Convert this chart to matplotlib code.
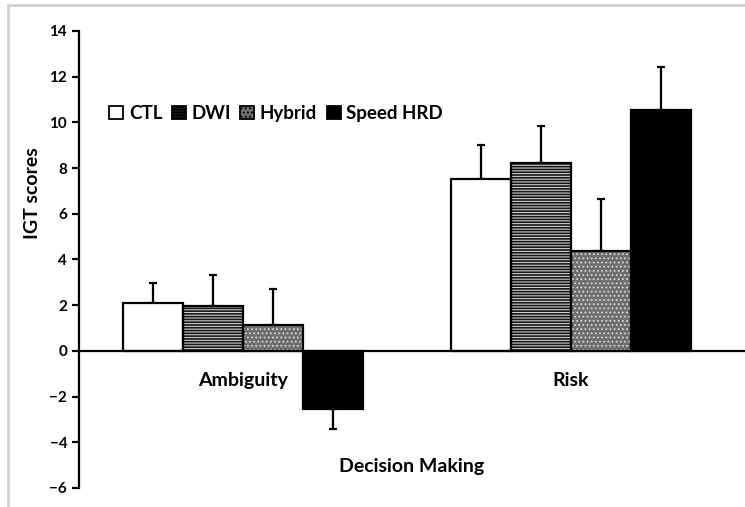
import numpy as np
import matplotlib.pyplot as plt
from matplotlib.patches import Patch

# data
conditions = ["Ambiguity", "Risk"]
groups = ["CTL", "DWI", "Hybrid", "Speed HRD"]
means = {
    "CTL": [2.1, 7.5],
    "DWI": [1.95, 8.2],
    "Hybrid": [1.15, 4.35],
    "Speed HRD": [-2.55, 10.55],
}
errors = {
    "CTL": [0.85, 1.5],
    "DWI": [1.35, 1.65],
    "Hybrid": [1.55, 2.3],
    "Speed HRD": [0.85, 1.85],
}

# fill, hatch, hatch colour per group
styles = {
    "CTL": ("white", None, "black"),
    "DWI": ("#151515", "------", "#cfcfcf"),
    "Hybrid": ("#6e6e6e", "....", "#d8d8d8"),
    "Speed HRD": ("black", None, "black"),
}

plt.rcParams["font.family"] = ["Lato", "DejaVu Sans"]
plt.rcParams["font.weight"] = "bold"
plt.rcParams["hatch.linewidth"] = 0.8

fig = plt.figure(figsize=(7.45, 5.07), dpi=100)
ax = fig.add_axes([0.106, 0.0375, 0.894, 0.9015])

x = np.arange(len(conditions))
width = 0.183
offsets = (np.arange(len(groups)) - 1.5) * width

handles = []
for i, g in enumerate(groups):
    face, hatch, hcol = styles[g]
    pos = x + offsets[i]
    # hatched fill layer
    ax.bar(pos, means[g], width, color=face, hatch=hatch, edgecolor=hcol,
           linewidth=0, zorder=2)
    # black outline layer
    ax.bar(pos, means[g], width, fill=False, edgecolor="black", linewidth=1.6,
           zorder=3)
    # one-sided error bars (away from zero)
    signs = np.sign(means[g])
    lower = np.where(signs < 0, errors[g], 0)
    upper = np.where(signs > 0, errors[g], 0)
    ax.errorbar(pos, means[g], yerr=[lower, upper], fmt="none", ecolor="black",
                elinewidth=1.6, capsize=3, capthick=1.6, zorder=1)
    handles.append(Patch(facecolor=face, hatch=hatch, edgecolor="black",
                         linewidth=1.3, label=g))

ax.spines["top"].set_visible(False)
ax.spines["right"].set_visible(False)
ax.spines["left"].set_linewidth(1.6)
ax.spines["bottom"].set_position(("data", 0))
ax.spines["bottom"].set_linewidth(1.6)
ax.spines["bottom"].set_zorder(4)

ax.set_xlim(-0.5, 1.532)
ax.set_ylim(-6, 14)
ax.set_yticks(np.arange(-6, 15, 2))
ax.set_xticks(x)
ax.set_xticklabels(conditions)
ax.tick_params(axis="x", length=0, pad=15, labelsize=14)
ax.tick_params(axis="y", direction="out", length=5, width=1.6, labelsize=11)
for lbl in ax.get_xticklabels() + ax.get_yticklabels():
    lbl.set_fontweight("bold")

ax.set_ylabel("IGT scores", fontsize=14, fontweight="bold")
ax.yaxis.set_label_coords(-0.057, 0.645)
ax.set_xlabel("Decision Making", fontsize=14, fontweight="bold")
ax.xaxis.set_label_coords(0.5, 0.066)

ax.legend(handles=handles, loc="upper left", bbox_to_anchor=(0.02, 0.875),
          ncol=4, frameon=False, handlelength=0.75, handleheight=0.75,
          handletextpad=0.3, columnspacing=0.5,
          prop={"size": 13.5, "weight": "bold"})

# thin grey frame line seen on the top and left of the picture
fig.add_artist(plt.Line2D([0.011, 0.011], [0, 0.99], color="#d0d0d0",
                          linewidth=2, transform=fig.transFigure))
fig.add_artist(plt.Line2D([0.011, 1], [0.99, 0.99], color="#d0d0d0",
                          linewidth=2, transform=fig.transFigure))

fig.savefig("out.png", dpi=100)
